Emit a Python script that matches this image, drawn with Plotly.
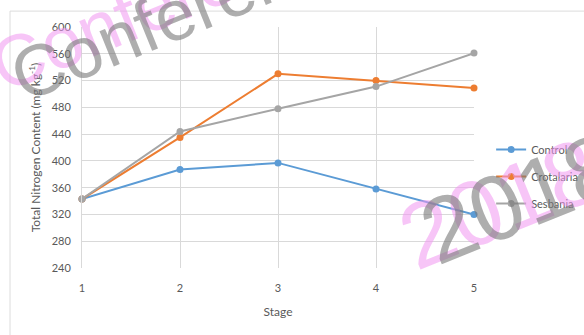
import plotly.graph_objects as go

# Total nitrogen content by growth stage
stages = [1, 2, 3, 4, 5]
control = [343, 387, 397, 358, 320]
crotalaria = [343, 435, 530, 520, 509]
sesbania = [343, 444, 478, 511, 561]

series = [
    ("Control", control, "#5b9bd5"),
    ("Crotalaria", crotalaria, "#ed7d31"),
    ("Sesbania", sesbania, "#a5a5a5"),
]

y_ticks = list(range(240, 601, 40))
FONT = "Lato, Open Sans, sans-serif"
TEXT = "#595959"
GRID = "#d9d9d9"

fig = go.Figure()
for name, vals, color in series:
    fig.add_trace(go.Scatter(
        x=stages, y=vals, name=name, mode="lines+markers",
        line=dict(color=color, width=2),
        marker=dict(color=color, size=7),
        legendgroup=name, cliponaxis=False,
    ))

# outer chart frame
fig.add_shape(type="rect", xref="paper", yref="paper",
              x0=-0.1434, y0=-0.6, x1=1.3, y1=1.066,
              line=dict(color="#dcdcdc", width=1), layer="below")

# diagonal watermark: pink copy with a grey copy beside it
PINK = "rgba(240,150,240,0.55)"
GREY = "rgba(120,120,120,0.6)"
watermark = [
    ("Conference", 72, (-0.21, 1.11), (-0.17, 1.07)),
    ("2018", 92, (0.60, 0.268), (0.64, 0.29)),
]
for text, size, pink_pos, grey_pos in watermark:
    for (x, y), col in [(pink_pos, PINK), (grey_pos, GREY)]:
        fig.add_annotation(text=text, xref="paper", yref="paper",
                           x=x, y=y, xanchor="left", yanchor="middle",
                           showarrow=False, textangle=-22,
                           font=dict(family="Arial, Liberation Sans, sans-serif", size=size, color=col))

fig.update_layout(
    width=584, height=335,
    margin=dict(l=82, r=0, t=27, b=67, autoexpand=False),
    paper_bgcolor="white", plot_bgcolor="white",
    font=dict(family=FONT, size=11, color=TEXT),
    showlegend=True,
    legend=dict(x=0.815, y=0.38, xanchor="left", yanchor="middle",
                font=dict(size=11, color=TEXT), tracegroupgap=8,
                bgcolor="rgba(0,0,0,0)"),
    xaxis=dict(
        domain=[0, 392 / 502],
        range=[1, 5], tickvals=stages, showgrid=True, gridcolor=GRID,
        zeroline=False, showline=False, ticks="",
        ticklabelstandoff=12,
        tickfont=dict(size=11, color=TEXT),
        title=dict(text="Stage", font=dict(size=12, color=TEXT), standoff=14),
    ),
    yaxis=dict(
        range=[240, 600], tickvals=y_ticks, showgrid=True, gridcolor=GRID,
        zeroline=False, showline=True, linecolor=GRID, ticks="",
        ticklabelstandoff=8,
        tickfont=dict(size=11, color=TEXT),
        title=dict(text="Total Nitrogen Content (mg kg<sup>-1</sup>)",
                   font=dict(size=12, color=TEXT), standoff=8),
    ),
)

fig.write_html("out.html")
